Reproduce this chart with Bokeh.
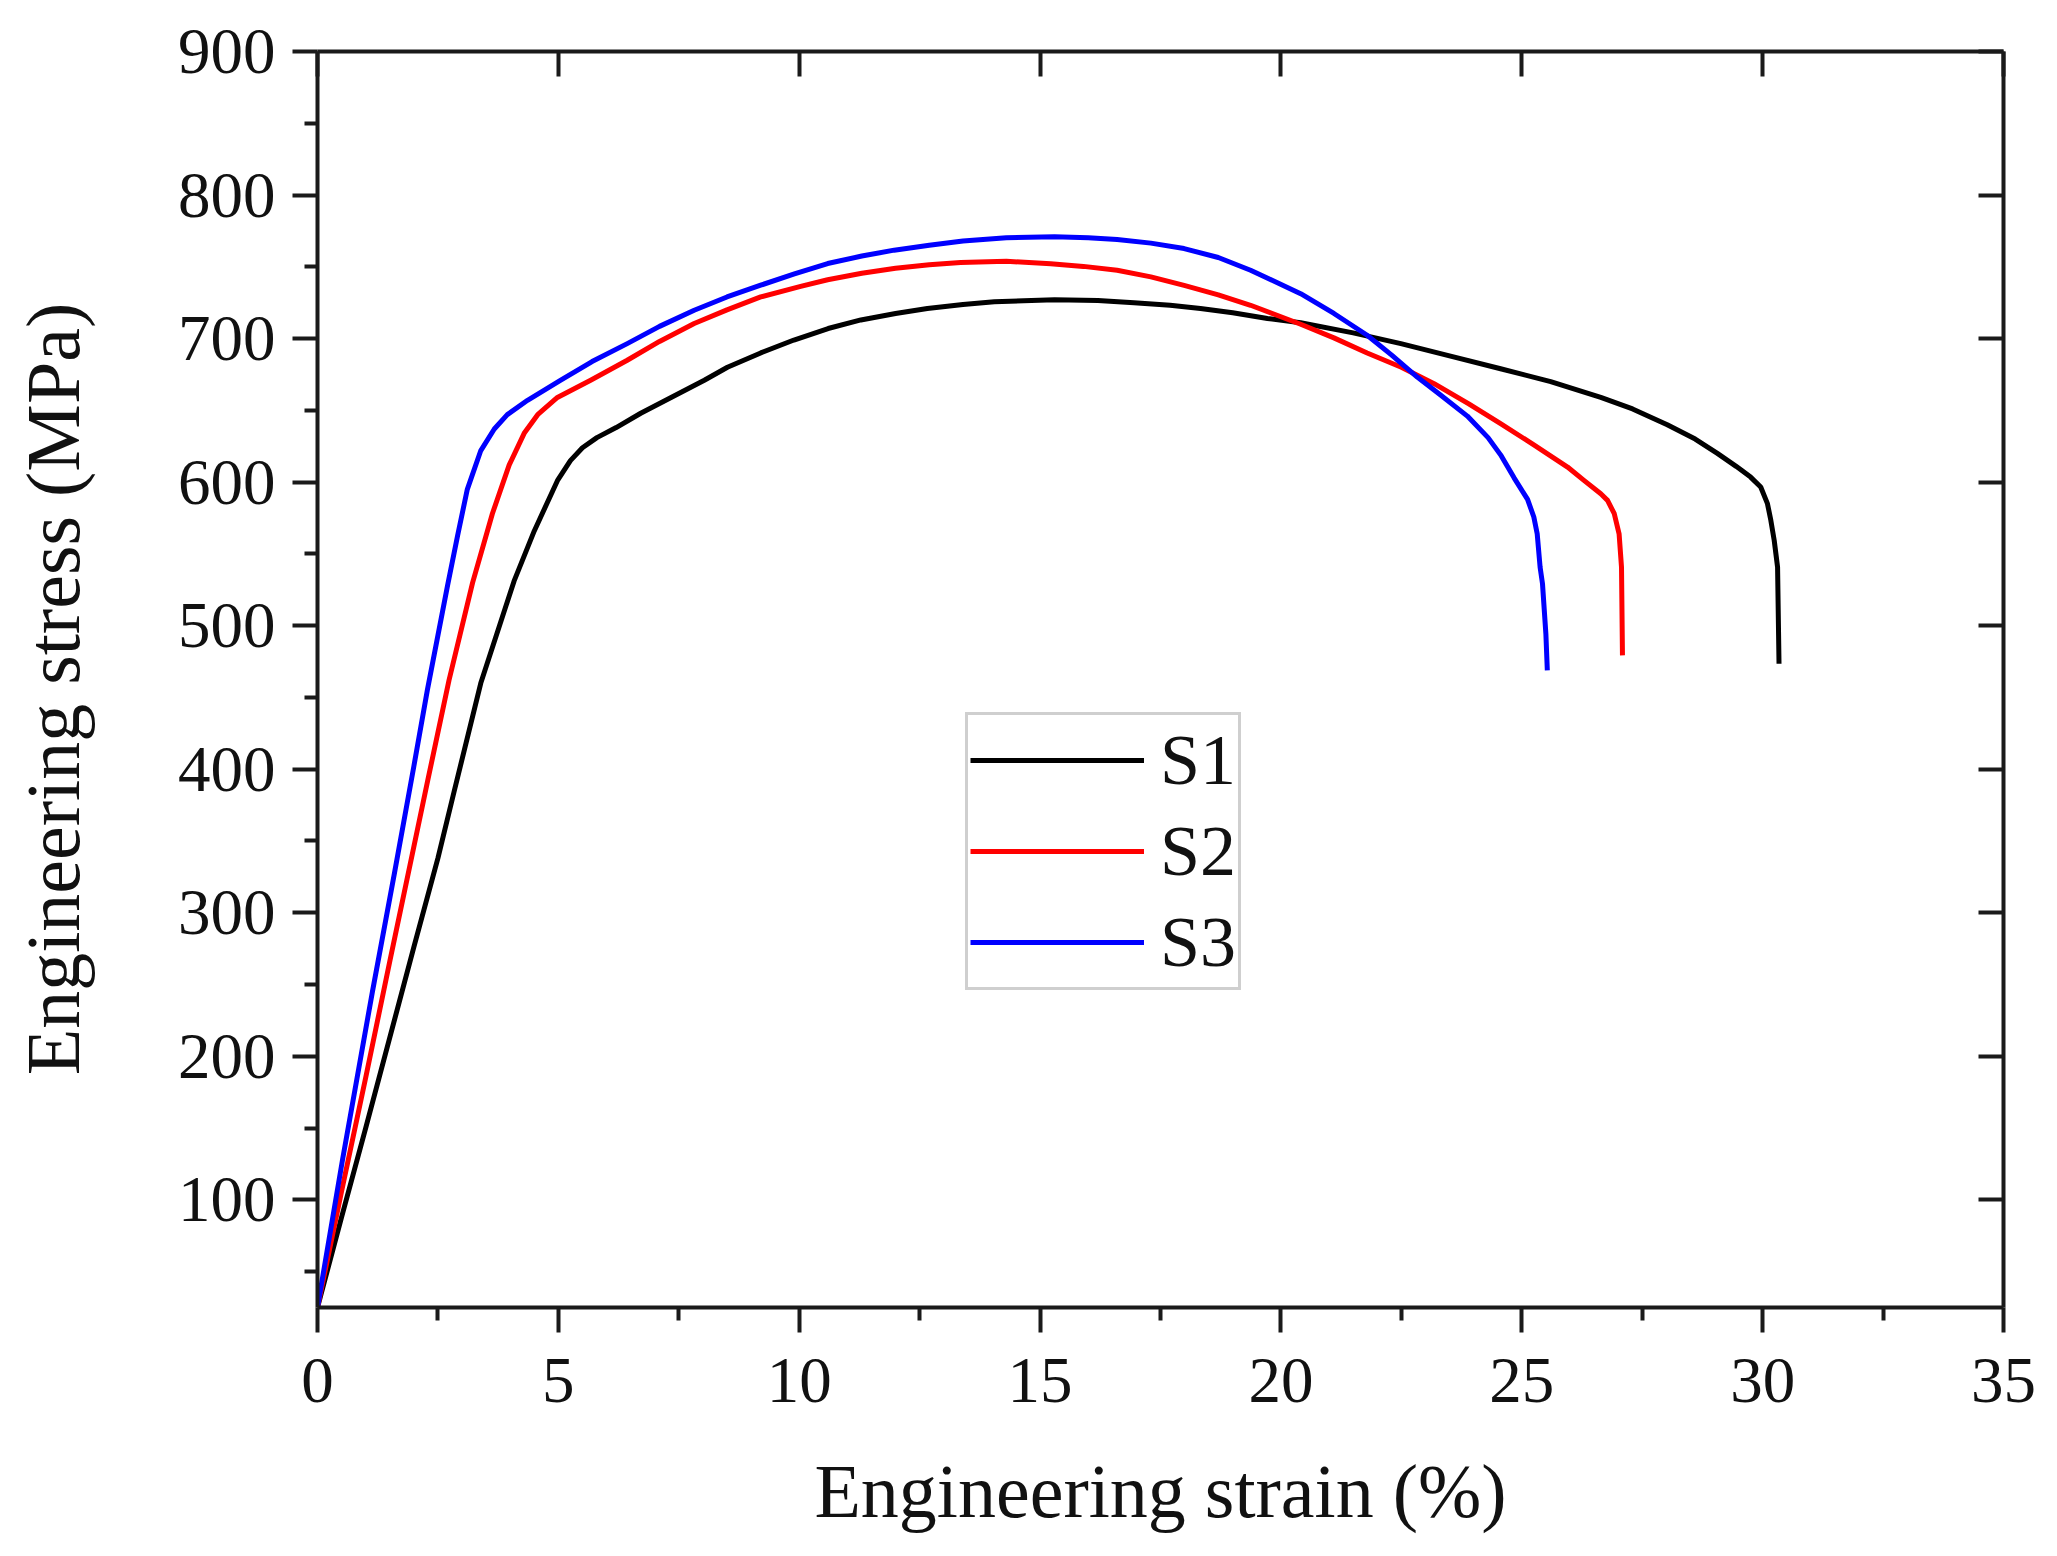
from bokeh.plotting import figure
from bokeh.models import Range1d, LinearAxis, FixedTicker, Legend, LegendItem, CustomJSTickFormatter
from bokeh.embed import file_html
from bokeh.resources import INLINE

# ---- data ----
s1_x = [0, 0.5, 1.0, 1.5, 2.0, 2.5, 2.84, 3.39, 4.08, 4.5, 4.98, 5.25, 5.5, 5.8, 6.2, 6.71,
        7.34, 8.03, 8.51, 9.2, 9.89, 10.6, 11.28, 12.0, 12.66, 13.4, 14.05, 15.3, 16.2, 16.95,
        17.7, 18.33, 19.0, 19.72, 20.41, 21.5, 22.49, 23.5, 24.56, 25.6, 26.64, 27.3, 28.02,
        28.6, 29.06, 29.45, 29.75, 29.96, 30.1, 30.17, 30.24, 30.31, 30.34]
s1_y = [25, 88, 150, 213, 276, 338, 385, 460, 531, 566, 601, 615, 624, 631, 638, 648,
        659, 671, 680, 690, 699, 707, 713, 717.5, 721, 723.8, 725.6, 727, 726.5, 725,
        723.2, 721, 718, 714, 711, 704, 696.5, 688, 679, 670, 659, 651, 640,
        630, 620, 611, 603.5, 596.6, 585, 573.4, 559.4, 540.8, 473.5]

s2_x = [0, 0.5, 1.0, 1.5, 2.0, 2.3, 2.73, 3.22, 3.63, 3.98, 4.29, 4.57, 4.98, 5.67, 6.43,
        7.1, 7.82, 8.5, 9.2, 10.03, 10.59, 11.3, 12.0, 12.7, 13.35, 14.3, 15.22, 15.9, 16.6,
        17.3, 17.99, 18.7, 19.37, 20.41, 21.1, 21.79, 22.5, 23.18, 23.9, 24.56, 25.25, 25.95,
        26.29, 26.64, 26.78, 26.92, 27.02, 27.07, 27.09]
s2_y = [25, 106, 185, 266, 346, 394, 462, 530, 578, 612, 634, 647, 659, 671, 684.9,
        698, 710.5, 720, 729, 736.4, 741, 745.5, 749, 751.5, 753, 753.8, 752.2, 750.3, 747.6,
        743, 737.1, 730.5, 723.2, 710, 700.5, 690, 680, 668.6, 654.5, 640.7, 626, 610.5,
        601.2, 591.9, 587.3, 578, 564, 540.8, 479.3]

s3_x = [0, 0.52, 1.14, 1.6, 2.0, 2.28, 2.70, 2.91, 3.11, 3.39, 3.67, 3.94, 4.36, 5.05, 5.7,
        6.43, 7.1, 7.82, 8.5, 9.2, 9.9, 10.59, 11.3, 11.97, 12.7, 13.4, 14.3, 15.3, 16.0, 16.6,
        17.3, 17.99, 18.7, 19.37, 20.41, 21.1, 21.79, 22.3, 22.83, 23.3, 23.87, 24.3, 24.56,
        24.84, 25.12, 25.25, 25.32, 25.38, 25.43, 25.5, 25.53]
s3_y = [25, 128, 245, 328, 402, 455, 528, 563, 595, 622, 637, 647, 657, 671, 684,
        696.5, 708.5, 719.7, 729, 737.2, 745, 752.3, 757.5, 761.6, 765, 768, 770.2, 771, 770.3, 769,
        766.5, 762.7, 756.5, 747.6, 731.3, 717.5, 702.3, 688.5, 673.2, 661, 646, 631, 619,
        603, 588, 575.7, 564, 540.8, 529.2, 494.4, 468.8]

series_names = ["S1", "S2", "S3"]
series_colors = ["#000000", "#ff0000", "#0000ff"]

x_ticks = [0, 5, 10, 15, 20, 25, 30, 35]
x_minor = [2.5, 7.5, 12.5, 17.5, 22.5, 27.5, 32.5]
y_ticks = [100, 200, 300, 400, 500, 600, 700, 800, 900]
y_minor = [50, 150, 250, 350, 450, 550, 650, 750, 850]

x_label = "Engineering strain (%)"
y_label = "Engineering  stress (MPa)"

FONT = "Liberation Serif"

p = figure(width=2040, height=1540, output_backend="svg", toolbar_location=None,
           x_range=Range1d(0, 35), y_range=Range1d(25, 900),
           min_border_left=317, min_border_right=37, min_border_top=51, min_border_bottom=233)
p.grid.visible = False
p.outline_line_color = None
p.background_fill_color = "white"
p.border_fill_color = "white"

def style_axis(ax, major, minor, tick_in, tick_out, minor_out, minor_in):
    ax.ticker = FixedTicker(ticks=major, minor_ticks=minor)
    ax.axis_line_width = 4
    ax.axis_line_color = "#1a1a1a"
    ax.major_tick_line_width = 4
    ax.minor_tick_line_width = 4
    ax.major_tick_line_color = "#1a1a1a"
    ax.minor_tick_line_color = "#1a1a1a"
    ax.major_tick_in = tick_in
    ax.major_tick_out = tick_out
    ax.minor_tick_in = minor_in
    ax.minor_tick_out = minor_out
    ax.major_label_text_font = FONT
    ax.major_label_text_font_size = "65px"
    ax.major_label_text_color = "#111111"
    ax.axis_label_text_font = FONT
    ax.axis_label_text_font_style = "normal"
    ax.axis_label_text_font_size = "76px"
    ax.axis_label_text_color = "#111111"

xa = p.xaxis[0]
style_axis(xa, x_ticks, x_minor, 0, 25, 13, 0)
xa.axis_label = x_label
xa.major_label_standoff = 26
xa.axis_label_standoff = 44

ya = p.yaxis[0]
style_axis(ya, y_ticks, y_minor, 0, 25, 13, 0)
ya.axis_label = y_label
ya.major_label_standoff = 17
ya.axis_label_standoff = 80

top = LinearAxis()
style_axis(top, x_ticks, [], 25, 0, 0, 0)
top.formatter = CustomJSTickFormatter(code="return ''")
top.major_label_text_font_size = "0px"
top.major_label_standoff = 0
p.add_layout(top, "above")

right = LinearAxis()
style_axis(right, y_ticks, [], 25, 0, 0, 0)
right.formatter = CustomJSTickFormatter(code="return ''")
right.major_label_text_font_size = "0px"
right.major_label_standoff = 0
p.add_layout(right, "right")

renderers = []
for xs, ys, c in zip([s1_x, s2_x, s3_x], [s1_y, s2_y, s3_y], series_colors):
    r = p.line(xs, ys, line_color=c, line_width=5, line_join="round")
    renderers.append(r)

legend = Legend(items=[LegendItem(label=n, renderers=[r]) for n, r in zip(series_names, renderers)],
                location=(648, 317))
legend.border_line_color = "#a0a0a0"
legend.border_line_width = 3
legend.background_fill_color = "white"
legend.background_fill_alpha = 1.0
legend.padding = 2
legend.spacing = 5
legend.margin = 0
legend.glyph_width = 174
legend.glyph_height = 86
legend.label_height = 86
legend.label_standoff = 16
legend.label_text_font = FONT
legend.label_text_font_size = "72px"
legend.label_text_color = "#111111"
p.add_layout(legend)

open("out.html", "w").write(file_html(p, INLINE))
